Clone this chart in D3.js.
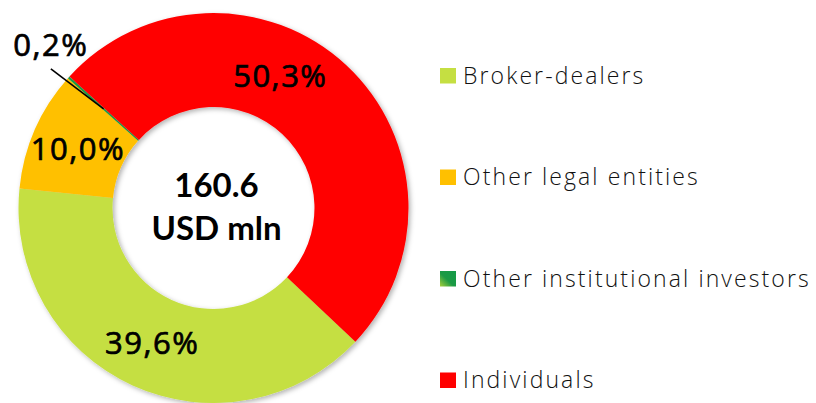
<!DOCTYPE html>
<html>
<head>
<meta charset="utf-8">
<script src="https://cdn.jsdelivr.net/npm/d3@7"></script>
<style>
    html, body { margin: 0; padding: 0; background: #fff; }
    svg { display: block; font-family: "Open Sans", Lato, sans-serif; }
</style>
</head>
<body>
<div id="chart"></div>
<script>
// data, in legend order (also the clockwise slice order)
const categories = ["Broker-dealers", "Other legal entities", "Other institutional investors", "Individuals"];
const shares = [39.6, 10.0, 0.2, 50.3];
const shareLabels = ["39,6%", "10,0%", "0,2%", "50,3%"];
const colors = ["#c5df42", "#ffc000", "#1b9a44", "#ff0000"];
const totalLines = ["160.6", "USD mln"];

const width = 816, height = 403;
const cx = 213.5, cy = 208;
const outerR = 195, innerR = 101, labelR = 148;

// small manual tweaks to where Excel put a couple of labels
const labelAngleShift = { "Individuals": -16 };
const outsideLabels = new Set(["Other institutional investors"]);

const svg = d3.select("#chart").append("svg")
    .attr("width", width)
    .attr("height", height)
    .attr("viewBox", [0, 0, width, height]);

const defs = svg.append("defs");
const shadow = defs.append("filter").attr("id", "shadow")
    .attr("x", "-10%").attr("y", "-10%").attr("width", "120%").attr("height", "120%");
shadow.append("feDropShadow")
    .attr("dx", 2).attr("dy", 2).attr("stdDeviation", 2.5)
    .attr("flood-color", "#000").attr("flood-opacity", 0.3);

const grad = defs.append("linearGradient").attr("id", "greenGrad")
    .attr("x1", "0").attr("y1", "1").attr("x2", "1").attr("y2", "0");
grad.append("stop").attr("offset", "0%").attr("stop-color", "#a6cf3a");
grad.append("stop").attr("offset", "45%").attr("stop-color", "#1b9a44");
grad.append("stop").attr("offset", "100%").attr("stop-color", "#139a48");

const data = categories.map((c, i) => ({ name: c, value: shares[i], label: shareLabels[i], color: colors[i] }));

const start = 133.3 * Math.PI / 180;
const pie = d3.pie()
    .sort(null)
    .value(d => d.value)
    .startAngle(start)
    .endAngle(start + 2 * Math.PI);

const arc = d3.arc().innerRadius(innerR).outerRadius(outerR);

const arcs = pie(data);

const g = svg.append("g").attr("transform", `translate(${cx},${cy})`);

g.append("g").attr("filter", "url(#shadow)")
    .selectAll("path")
    .data(arcs)
    .join("path")
    .attr("d", arc)
    .attr("fill", d => d.data.color);

// point on a circle at radius r for a pie angle (clockwise from 12 o'clock)
const polar = (a, r) => [r * Math.sin(a), -r * Math.cos(a)];

// regular weight with a thin outline, to get the medium look of the original
const labelStyle = sel => sel
    .attr("text-anchor", "middle")
    .attr("font-size", 31)
    .attr("letter-spacing", 1.5)
    .attr("fill", "#000")
    .attr("stroke", "#000")
    .attr("stroke-width", 0.7);

arcs.forEach(d => {
    const mid = (d.startAngle + d.endAngle) / 2;
    if (outsideLabels.has(d.data.name)) {
        const p0 = polar(mid, labelR);
        const p1 = polar(mid - 1.5 * Math.PI / 180, 214);
        g.append("line")
            .attr("x1", p1[0]).attr("y1", p1[1])
            .attr("x2", p0[0]).attr("y2", p0[1])
            .attr("stroke", "#000").attr("stroke-width", 1.6);
        g.append("text")
            .attr("x", p1[0]).attr("y", p1[1] - 13)
            .call(labelStyle)
            .text(d.data.label);
        return;
    }
    const shift = (labelAngleShift[d.data.name] || 0) * Math.PI / 180;
    const p = polar(mid + shift, labelR);
    g.append("text")
        .attr("x", p[0]).attr("y", p[1])
        .attr("dy", "0.36em")
        .call(labelStyle)
        .text(d.data.label);
});

// total in the hole
g.selectAll("text.total")
    .data(totalLines)
    .join("text")
    .attr("class", "total")
    .attr("x", 3)
    .attr("y", (d, i) => -11 + i * 43)
    .attr("text-anchor", "middle")
    .attr("font-family", "Lato, sans-serif")
    .attr("font-size", 33)
    .attr("font-weight", "bold")
    .attr("fill", "#000")
    .text(d => d);

// legend
const legendY = d3.scaleLinear().domain([0, 1]).range([83.5, 185]);
const legend = svg.append("g").selectAll("g")
    .data(data)
    .join("g")
    .attr("transform", (d, i) => `translate(440,${legendY(i)})`);

legend.append("rect")
    .attr("x", 0).attr("y", -15.5)
    .attr("width", 16).attr("height", 15.5)
    .attr("fill", d => d.name === "Other institutional investors" ? "url(#greenGrad)" : d.color);

legend.append("text")
    .attr("x", 23)
    .attr("y", 0)
    .attr("font-size", 23)
    .attr("font-weight", 300)
    .attr("letter-spacing", 2.1)
    .attr("fill", "#111")
    .text(d => d.name);
</script>
</body>
</html>
